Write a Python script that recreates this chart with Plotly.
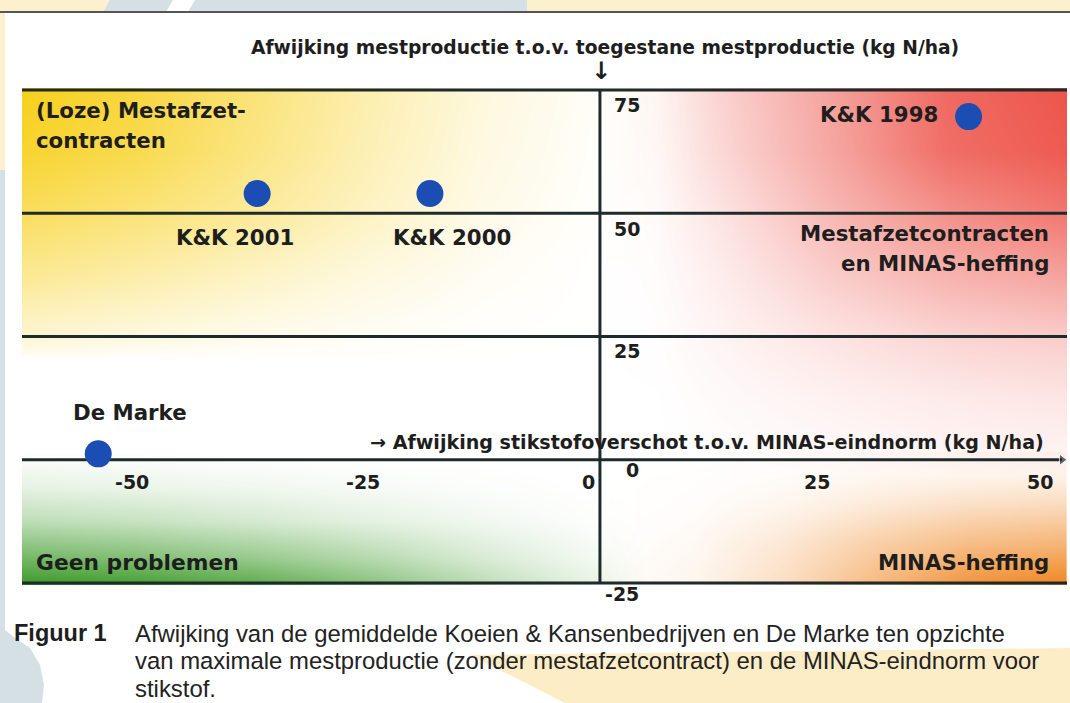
import plotly.graph_objects as go

# values (kg N/ha)
names = ["K&K 1998", "K&K 2000", "K&K 2001", "De Marke"]
n_surplus = [39.9, -18.4, -37.1, -54.3]   # afwijking stikstofoverschot t.o.v. MINAS-eindnorm
manure_dev = [69.6, 54.0, 54.0, 1.2]      # afwijking mestproductie t.o.v. toegestane mestproductie

x_ticks = [-50, -25, 0, 25, 50]
y_ticks = [-25, 0, 25, 50, 75]

title_top = "Afwijking mestproductie t.o.v. toegestane mestproductie (kg N/ha)"
title_x = "→ Afwijking stikstofoverschot t.o.v. MINAS-eindnorm (kg N/ha)"
caption_head = "Figuur 1"
caption_lines = [
    "Afwijking van de gemiddelde Koeien & Kansenbedrijven en De Marke ten opzichte",
    "van maximale mestproductie (zonder mestafzetcontract) en de MINAS-eindnorm voor",
    "stikstof.",
]

# ---- style ----
W, H = 1070, 703
X_RANGE = [-62.55, 50.55]
Y_RANGE = [-25.4, 75.4]
M = dict(l=22, r=3, t=88, b=118)
INK = "#1e1e1e"
LINE = "#1f2b2b"
BOLD = "DejaVu Sans"
CAPTION_FONT = "Liberation Sans"


def px_x(x):
    return (x - M["l"]) / (W - M["l"] - M["r"])


def px_y(y):
    return (H - M["b"] - y) / (H - M["t"] - M["b"])


# background colour washes: (colour, x nodes, y nodes, intensity rows from bottom to top)
washes = [
    ((247, 208, 30),
     [-62.55, -50, -37.5, -25, -12.5, 0, 12.5],
     [20, 25, 37.5, 50, 62.5, 75],
     [[0, 0, 0, 0, 0, 0, 0],
      [0.20, 0.14, 0.08, 0.04, 0.01, 0, 0],
      [0.48, 0.38, 0.26, 0.14, 0.05, 0, 0],
      [0.72, 0.60, 0.45, 0.26, 0.10, 0.01, 0],
      [0.92, 0.78, 0.55, 0.32, 0.13, 0.02, 0],
      [1.00, 0.85, 0.60, 0.35, 0.15, 0.03, 0]]),
    ((237, 85, 75),
     [0, 6, 12.5, 25, 37.5, 50.55],
     [-3, 0, 12.5, 25, 37.5, 50, 62.5, 75],
     [[0, 0, 0, 0, 0, 0],
      [0, 0, 0.01, 0.03, 0.05, 0.06],
      [0, 0, 0.03, 0.08, 0.12, 0.15],
      [0, 0.01, 0.06, 0.16, 0.25, 0.30],
      [0, 0.02, 0.10, 0.30, 0.45, 0.55],
      [0, 0.03, 0.15, 0.42, 0.65, 0.80],
      [0, 0.04, 0.22, 0.52, 0.85, 0.97],
      [0, 0.05, 0.25, 0.55, 0.88, 1.00]]),
    ((62, 155, 42),
     [-62.55, -50, -37.5, -25, -12.5, 0, 5],
     [-25, -20, -12.5, -6, 0, 2],
     [[1.00, 0.94, 0.82, 0.60, 0.34, 0.10, 0],
      [0.72, 0.65, 0.54, 0.38, 0.20, 0.05, 0],
      [0.34, 0.29, 0.22, 0.14, 0.07, 0.01, 0],
      [0.14, 0.11, 0.08, 0.05, 0.02, 0, 0],
      [0.03, 0.02, 0.01, 0, 0, 0, 0],
      [0, 0, 0, 0, 0, 0, 0]]),
    ((240, 135, 35),
     [-5, 0, 10, 20, 30, 40, 50.55],
     [-25, -17, -9, -3, 0],
     [[0, 0.01, 0.08, 0.28, 0.58, 0.88, 1.00],
      [0, 0, 0.05, 0.20, 0.40, 0.55, 0.62],
      [0, 0, 0.02, 0.08, 0.18, 0.26, 0.30],
      [0, 0, 0.01, 0.03, 0.06, 0.08, 0.10],
      [0, 0, 0, 0.01, 0.02, 0.03, 0.04]]),
]

fig = go.Figure()

for rgb, wx, wy, wz in washes:
    r, g, b = rgb
    fig.add_trace(go.Heatmap(
        x=wx, y=wy, z=wz, zmin=0, zmax=1, zsmooth="best", showscale=False,
        colorscale=[[0, f"rgba({r},{g},{b},0)"], [1, f"rgba({r},{g},{b},1)"]],
        hoverinfo="skip"))

# horizontal rules at the y ticks (the 0 one becomes the x axis with an arrow)
hx, hy = [], []
for yv in y_ticks:
    if yv == 0:
        continue
    hx += [X_RANGE[0], X_RANGE[1], None]
    hy += [yv, yv, None]
fig.add_trace(go.Scatter(x=hx, y=hy, mode="lines", line=dict(color=LINE, width=3),
                         hoverinfo="skip", showlegend=False))

# vertical axis at x = 0
fig.add_trace(go.Scatter(x=[0, 0], y=[y_ticks[0], y_ticks[-1]], mode="lines",
                         line=dict(color=LINE, width=3), hoverinfo="skip", showlegend=False))

# horizontal axis at y = 0 with arrow head
fig.add_trace(go.Scatter(x=[X_RANGE[0], x_ticks[-1]], y=[0, 0], mode="lines+markers",
                         line=dict(color=LINE, width=3),
                         marker=dict(size=[0, 10], symbol="triangle-right", color=LINE),
                         hoverinfo="skip", showlegend=False))

# the farms
fig.add_trace(go.Scatter(x=n_surplus, y=manure_dev, mode="markers", text=names,
                         marker=dict(size=27, color="#1c4db3"),
                         hovertemplate="%{text}<br>%{x}, %{y}<extra></extra>",
                         showlegend=False))

ann = []

# point labels, offsets in pixels
label_pos = {
    "K&K 1998": ("right", -29, 2),
    "K&K 2000": ("center", 22, -44),
    "K&K 2001": ("center", -22, -44),
    "De Marke": ("left", -27, 41),
}
for name, xv, yv in zip(names, n_surplus, manure_dev):
    anchor, dx, dy = label_pos[name]
    ann.append(dict(x=xv, y=yv, xref="x", yref="y", text=name, showarrow=False,
                    xanchor=anchor, yanchor="middle", xshift=dx, yshift=dy,
                    font=dict(family=BOLD, size=21.3, color=INK, weight="bold")))


def label(text, x, y, anchor="left", size=21.3, family=BOLD, weight="bold", color=INK):
    ann.append(dict(x=px_x(x), y=px_y(y), xref="paper", yref="paper", text=text,
                    showarrow=False, xanchor=anchor, yanchor="middle",
                    font=dict(family=family, size=size, color=color, weight=weight)))


# zone texts
label("(Loze) Mestafzet-", 34, 111)
label("contracten", 34, 140)
label("Mestafzetcontracten", 1051, 233, "right")
label("en MINAS-heffing", 1051, 263, "right")
label("Geen problemen", 34, 562, size=21.8)
label("MINAS-heffing", 1051, 562, "right")

# axis titles
label(title_top, 605, 47, "center", size=18.7)
label("↓", 601, 71, "center", size=24)
label(title_x, 1046, 442, "right", size=19.1)

# tick labels: x along the y = 0 line, y beside the vertical axis
x_lab_px = {-50: 132, -25: 363, 0: 588, 25: 817, 50: 1040}
for xv in x_ticks:
    label(str(xv), x_lab_px[xv], 482, "center", size=19)
y_lab_px = {75: (612, 105), 50: (612, 229), 25: (612, 351), 0: (624, 470), -25: (603, 594)}
for yv in y_ticks:
    xp, yp = y_lab_px[yv]
    label(str(yv), xp, yp, "left", size=19)

# caption
label(caption_head, 12, 633, "left", size=23.5, family=CAPTION_FONT)
for i, line in enumerate(caption_lines):
    label(line, 133, 633 + i * 27.5, "left", size=23.9, family=CAPTION_FONT, weight="normal",
          color="#222222")


# page decoration around the figure
def poly(points):
    return "M " + " L ".join(f"{px_x(a):.5f},{px_y(b):.5f}" for a, b in points) + " Z"


PALE_YELLOW = "rgb(253,240,206)"
GREY_BLUE = "rgb(212,224,228)"
shapes = [
    dict(type="path", path=poly([(0, 0), (1070, 0), (1070, 12), (0, 12)]), fillcolor=PALE_YELLOW),
    dict(type="path", path=poly([(110, 0), (527, 0), (527, 12), (103, 12)]), fillcolor=GREY_BLUE),
    dict(type="path", path=poly([(173, 0), (195, 0), (188, 12), (166, 12)]), fillcolor="white"),
    dict(type="path", path=poly([(0, 12), (5, 12), (5, 170), (0, 170)]), fillcolor=PALE_YELLOW),
    dict(type="path", path=poly([(0, 170), (5, 170), (5, 630), (15, 638), (30, 648), (40, 665),
                                 (44, 685), (42, 703), (0, 703)]), fillcolor=GREY_BLUE),
    dict(type="path", path=poly([(470, 655), (1070, 648), (1070, 703), (565, 703)]),
         fillcolor="rgb(253,237,198)"),
]
for s in shapes:
    s.update(xref="paper", yref="paper", layer="below", line=dict(width=0))
shapes.append(dict(type="line", xref="paper", yref="paper", x0=px_x(0), x1=px_x(1070),
                   y0=px_y(12), y1=px_y(12), line=dict(color="#555555", width=2)))

fig.update_layout(
    width=W, height=H, margin=M,
    paper_bgcolor="white", plot_bgcolor="white",
    xaxis=dict(range=X_RANGE, visible=False, fixedrange=True),
    yaxis=dict(range=Y_RANGE, visible=False, fixedrange=True),
    annotations=ann, shapes=shapes, showlegend=False,
)

# the page has a default 8px body margin; drop it so the figure fills the window
fig.write_html("out.html", config={"displayModeBar": False},
               post_script="document.body.style.margin='0';document.body.style.overflow='hidden';")
